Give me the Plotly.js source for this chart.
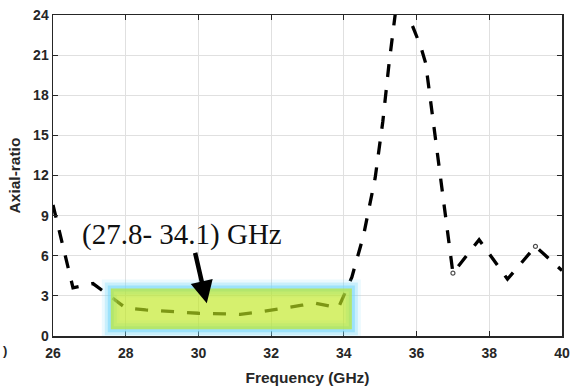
<!DOCTYPE html>
<html>
<head>
<meta charset="utf-8">
<script src="https://cdn.plot.ly/plotly-3.0.1.min.js"></script>
<style>html,body{margin:0;padding:0;background:#fff;}#chart{width:572px;height:387px;}</style>
</head>
<body>
<div id="chart"></div>
<script>
// Frequency (GHz)
const freq = [26, 26.55, 27.1, 28, 28.55, 29.3, 30.0, 30.75, 31.15, 31.5, 32.15, 32.85, 33.2, 33.7, 33.85,
              34.22, 34.54, 34.86, 35.07, 35.24, 35.41, 35.55, 35.73, 35.9, 36.12, 36.25, 37.0, 37.72, 38.5, 39.27, 40];
// Axial ratio
const axialRatio = [9.8, 3.6, 3.92, 2.1, 1.95, 1.8, 1.7, 1.66, 1.62, 1.73, 1.98, 2.3, 2.46, 2.2, 2.1,
                    4.4, 7.5, 11.8, 16.0, 20.3, 24.0, 25.0, 24.0, 23.1, 21.6, 20.4, 4.7, 7.2, 4.25, 6.7, 4.9];
// small open markers at two points
const markerSizes = freq.map((f) => (f === 37.0 || f === 39.27) ? 4 : 0);

const xTicks = [26, 28, 30, 32, 34, 36, 38, 40];
const yTicks = [0, 3, 6, 9, 12, 15, 18, 21, 24];

// highlighted band
const band = {x0: 27.59, x1: 34.22, y0: 0.5, y1: 3.56};
const bandLabel = "(27.8- 34.1) GHz";

const trace = {
  x: freq, y: axialRatio, type: 'scatter', mode: 'lines+markers',
  line: {color: '#000', width: 3.3, dash: '13px,13px'},
  marker: {size: markerSizes, symbol: 'circle-open', color: '#000', line: {width: 1.2, color: '#000'}},
  showlegend: false, hoverinfo: 'skip'
};

const tickFont = {family: 'Liberation Sans, Arial, sans-serif', size: 14, color: '#262626', weight: 'bold'};
const titleFont = {family: 'Liberation Sans, Arial, sans-serif', size: 15.5, color: '#262626', weight: 'bold'};

const glow = [];
[[9, 0.15], [6, 0.3], [3, 0.55]].forEach(([w, a]) => {
  glow.push({type: 'rect', xref: 'x', yref: 'y', x0: band.x0, x1: band.x1, y0: band.y0, y1: band.y1,
    line: {color: 'rgba(120,215,250,' + a + ')', width: w * 2}, fillcolor: 'rgba(0,0,0,0)', layer: 'above'});
});
glow.push({type: 'rect', xref: 'x', yref: 'y', x0: band.x0, x1: band.x1, y0: band.y0, y1: band.y1,
  line: {width: 0}, fillcolor: 'rgb(192,232,32)', opacity: 0.65, layer: 'above'});

const layout = {
  width: 572, height: 387,
  margin: {l: 53, r: 10, t: 15, b: 51},
  paper_bgcolor: '#fff', plot_bgcolor: '#fff',
  xaxis: {
    range: [26, 40], tickvals: xTicks, ticktext: xTicks.map(String),
    ticks: 'inside', ticklen: 5, tickcolor: '#262626', tickwidth: 1,
    showline: true, linecolor: '#262626', linewidth: 1.5, mirror: 'ticks',
    showgrid: true, gridcolor: '#e0e0e0', gridwidth: 1, zeroline: false,
    tickfont: tickFont, ticklabelstandoff: 4,
    title: {text: 'Frequency (GHz)', font: titleFont, standoff: 12}
  },
  yaxis: {
    range: [0, 24], tickvals: yTicks, ticktext: yTicks.map(String),
    ticks: 'inside', ticklen: 5, tickcolor: '#262626', tickwidth: 1,
    showline: true, linecolor: '#262626', linewidth: 1.5, mirror: 'ticks',
    showgrid: true, gridcolor: '#e0e0e0', gridwidth: 1, zeroline: false,
    tickfont: tickFont,
    title: {text: 'Axial-ratio', font: titleFont, standoff: 8}
  },
  shapes: glow,
  annotations: [
    {xref: 'x', yref: 'y', x: 29.55, y: 7.6, text: bandLabel, showarrow: false,
     font: {family: 'Liberation Serif, Times New Roman, serif', size: 29, color: '#111'}},
    {xref: 'x', yref: 'y', x: 30.23, y: 2.44, text: '', showarrow: true,
     ax: -12, ay: -52, arrowhead: 2, arrowsize: 1, arrowwidth: 4.5, arrowcolor: '#000'},
    {xref: 'paper', yref: 'paper', x: -0.102, y: -0.045, xanchor: 'left', yanchor: 'middle', text: ')', showarrow: false,
     font: {family: 'Liberation Sans, Arial, sans-serif', size: 13, color: '#262626', weight: 'bold'}}
  ]
};

Plotly.newPlot('chart', [trace], layout, {displayModeBar: false, staticPlot: true});
</script>
</body>
</html>
